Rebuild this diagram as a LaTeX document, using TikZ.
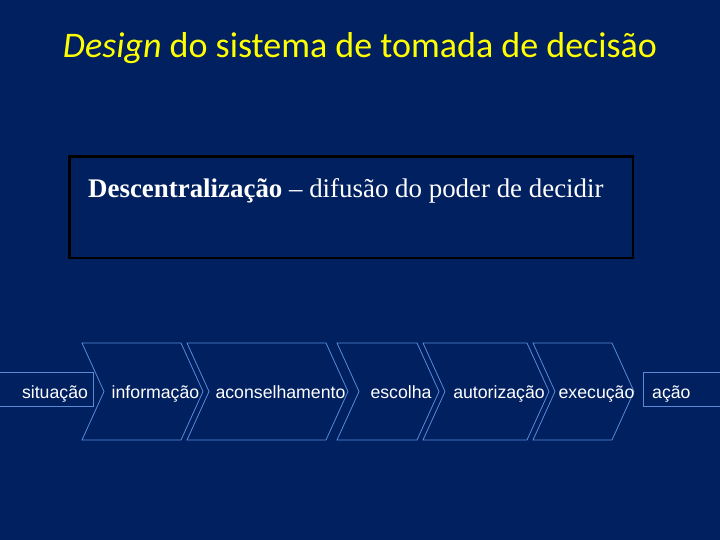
\documentclass[tikz,border=0pt]{standalone}
\usepackage{fontspec}
\setmainfont{Liberation Serif}
\newfontfamily\arialf{Liberation Sans}
\newfontfamily\calibrif{Carlito}
\definecolor{navy}{RGB}{0,32,96}
\definecolor{chevblue}{RGB}{90,138,216}
\definecolor{titleyellow}{RGB}{255,255,0}
\newcommand{\chevron}[5]{%
  % #1 name, #2 left x, #3 right top x, #4 text, #5 depth
  \draw[chevline] (#2,343) -- (#3,343) -- ({#3+#5},391.5) -- (#3,440) -- (#2,440) -- ({#2+#5},391.5) -- cycle;
  \node[steptext] (#1) at ({(#2+#3)/2+#5+2},398) {#4};
}
\begin{document}
\begin{tikzpicture}[x=1pt,y=-1pt,
  chevline/.style={draw=chevblue,line width=0.8pt,line join=miter},
  steptext/.style={text=white,font=\arialf\fontsize{17.7}{20}\selectfont,anchor=base,inner sep=0pt},
  endbox/.style={draw=chevblue,line width=0.8pt}]
\fill[navy] (0,0) rectangle (720,540);
\useasboundingbox (0,0) rectangle (720,540);
% title
\node[text=titleyellow,font=\calibrif\fontsize{36}{40}\selectfont,anchor=base,inner sep=0pt] (title) at (360,58) {\textit{Design} do sistema de tomada de decisão};
% box
\draw[line width=2.5pt,draw=black] (69.5,156.5) rectangle (633,258);
\node[text=white,font=\fontsize{26.9}{30}\selectfont,anchor=base west,inner sep=0pt] (desc) at (88,197) {\textbf{Descentralização} – difusão do poder de decidir};
% end boxes
\draw[endbox] (-5,372) rectangle (93,406.5);
\node[steptext] (sit) at (55,398) {situação};
\draw[endbox] (643.5,372) rectangle (730,406.5);
\node[steptext,anchor=base west] (acao) at (652,398) {ação};
% chevrons
\chevron{info}{82}{181}{informação}{22}
\chevron{acons}{187}{326}{aconselhamento}{22}
\chevron{esc}{337}{417}{escolha}{22}
\chevron{aut}{423}{527}{autorização}{22}
\chevron{exec}{533}{612}{execução}{22}
\end{tikzpicture}
\end{document}
